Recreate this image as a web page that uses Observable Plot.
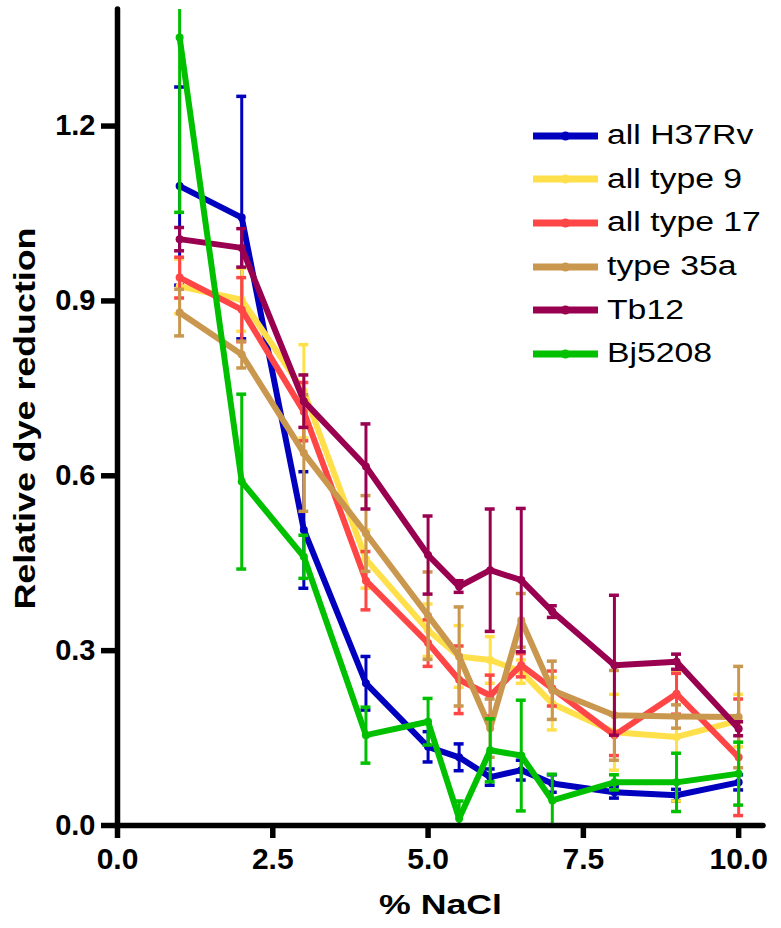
<!DOCTYPE html>
<html>
<head>
<meta charset="utf-8">
<script src="https://cdn.jsdelivr.net/npm/d3@7"></script>
<script src="https://cdn.jsdelivr.net/npm/@observablehq/plot@0.6"></script>
<style>
  html, body { margin: 0; padding: 0; background: #fff; }
  #wrap { position: relative; width: 781px; height: 928px; }
  #legend { position: absolute; left: 533px; top: 114px; font-family: 'Liberation Sans', Arial, sans-serif; }
  .row { display: flex; align-items: center; height: 43.6px; }
  .row svg { display: block; }
  .row span { display: inline-block; font-size: 27px; line-height: 1; margin-left: 9px; transform: scaleX(1.25); transform-origin: left center; color: #000; white-space: nowrap; }
</style>
</head>
<body>
<div id="wrap"><div id="legend"></div></div>
<script>
// % NaCl concentrations
const nacl = [1, 2, 3, 4, 5, 5.5, 6, 6.5, 7, 8, 9, 10];

const seriesNames = ["all H37Rv", "all type 9", "all type 17", "type 35a", "Tb12", "Bj5208"];
const seriesColors = ["#0000BE", "#FFE04A", "#FF4646", "#C9974E", "#990050", "#00C000"];

// means
const h37rv   = [1.097, 1.043, 0.507, 0.244, 0.135, 0.117, 0.083, 0.095, 0.072, 0.057, 0.052, 0.074];
const type9   = [0.925, 0.902, 0.745, 0.457, 0.335, 0.290, 0.284, 0.264, 0.209, 0.160, 0.152, 0.180];
const type17  = [0.940, 0.885, 0.710, 0.420, 0.313, 0.250, 0.223, 0.275, 0.235, 0.155, 0.226, 0.117];
const type35a = [0.880, 0.808, 0.639, 0.501, 0.360, 0.290, 0.167, 0.352, 0.232, 0.189, 0.187, 0.186];
const tb12    = [1.006, 0.991, 0.728, 0.616, 0.464, 0.410, 0.438, 0.421, 0.367, 0.275, 0.281, 0.166];
const bj5208  = [1.352, 0.590, 0.461, 0.155, 0.178, 0.012, 0.129, 0.120, 0.043, 0.074, 0.074, 0.089];

// error bar half-lengths
const h37rvErr   = [0.170, 0.208, 0.100, 0.046, 0.026, 0.023, 0.014, 0.017, 0.015, 0.010, 0.010, 0.013];
const type9Err   = [0.047, 0.054, 0.080, 0.050, 0.045, 0.053, 0.040, 0.020, 0.045, 0.065, 0.110, 0.045];
const type17Err  = [0.035, 0.055, 0.050, 0.050, 0.040, 0.058, 0.035, 0.020, 0.030, 0.035, 0.035, 0.100];
const type35aErr = [0.040, 0.023, 0.100, 0.065, 0.075, 0.085, 0.050, 0.046, 0.050, 0.077, 0.020, 0.087];
const tb12Err    = [0.020, 0.033, 0.045, 0.073, 0.067, 0.010, 0.105, 0.123, 0.010, 0.120, 0.013, 0.012];
const bj5208Err  = [0.300, 0.150, 0.037, 0.048, 0.040, 0.030, 0.054, 0.095, 0.045, 0.013, 0.050, 0.054];

const yTicks = [0, 0.3, 0.6, 0.9, 1.2];
const xTicks = [0, 2.5, 5, 7.5, 10];

const means = [h37rv, type9, type17, type35a, tb12, bj5208];
const errs = [h37rvErr, type9Err, type17Err, type35aErr, tb12Err, bj5208Err];

const capHalf = 0.08;
const seriesMarks = [];
seriesNames.forEach((name, s) => {
  const rows = nacl.map((x, i) => ({series: name, x, y: means[s][i], e: errs[s][i]}));
  const c = seriesColors[s];
  seriesMarks.push(
    Plot.ruleX(rows, {x: "x", y1: d => d.y - d.e, y2: d => d.y + d.e, stroke: c, strokeWidth: 3, clip: true}),
    Plot.ruleY(rows, {y: d => d.y + d.e, x1: d => d.x - capHalf, x2: d => d.x + capHalf, stroke: c, strokeWidth: 3.5, clip: true}),
    Plot.ruleY(rows, {y: d => d.y - d.e, x1: d => d.x - capHalf, x2: d => d.x + capHalf, stroke: c, strokeWidth: 3.5, clip: true}),
    Plot.line(rows, {x: "x", y: "y", stroke: c, strokeWidth: 6, strokeLinejoin: "round", clip: true}),
    Plot.dot(rows, {x: "x", y: "y", r: 4, fill: c, clip: true})
  );
});

const plot = Plot.plot({
  width: 781,
  height: 928,
  marginLeft: 117,
  marginRight: 18,
  marginTop: 9,
  marginBottom: 103,
  x: {domain: [0, 10.4]},
  y: {domain: [0, 1.4]},
  style: {fontFamily: "'Liberation Sans', Arial, sans-serif", background: "white", color: "black", overflow: "visible"},
  marks: [
    ...seriesMarks,
    Plot.ruleX([0], {strokeWidth: 5.5, strokeLinecap: "round"}),
    Plot.ruleY([0], {strokeWidth: 5.5, strokeLinecap: "round"}),
    Plot.axisY({ticks: yTicks, tickFormat: d => d.toFixed(1), tickSize: 16, tickPadding: 6, strokeWidth: 5.5, fontSize: 29, fontWeight: "bold", label: null}),
    Plot.axisX({ticks: xTicks, tickFormat: d => d.toFixed(1), tickSize: 13, tickPadding: 9, strokeWidth: 5.5, fontSize: 30, fontWeight: "bold", label: null}),
    Plot.text(["% NaCl"], {frameAnchor: "bottom", dy: 88, fontSize: 28, fontWeight: "bold", text: d => d}),
    Plot.text(["Relative dye reduction"], {frameAnchor: "left", dx: -92, dy: 192, rotate: -90, textAnchor: "start", fontSize: 29, fontWeight: "bold", text: d => d})
  ]
});

document.getElementById("wrap").prepend(plot);

// stretch the axis titles to match the reference proportions
d3.select(plot).selectAll("text").each(function() {
  const t = this.textContent;
  if (t === "% NaCl") { this.setAttribute("textLength", 123); this.setAttribute("lengthAdjust", "spacingAndGlyphs"); }
  if (t === "Relative dye reduction") { this.setAttribute("textLength", 382); this.setAttribute("lengthAdjust", "spacingAndGlyphs"); }
});

// legend
const legend = d3.select("#legend");
seriesNames.forEach((name, i) => {
  const row = legend.append("div").attr("class", "row");
  const sw = row.append("svg").attr("width", 65).attr("height", 14);
  sw.append("line").attr("x1", 0).attr("x2", 65).attr("y1", 7).attr("y2", 7)
    .attr("stroke", seriesColors[i]).attr("stroke-width", 7);
  sw.append("circle").attr("cx", 32.5).attr("cy", 7).attr("r", 4.5).attr("fill", seriesColors[i]);
  row.append("span").text(name);
});
</script>
</body>
</html>
